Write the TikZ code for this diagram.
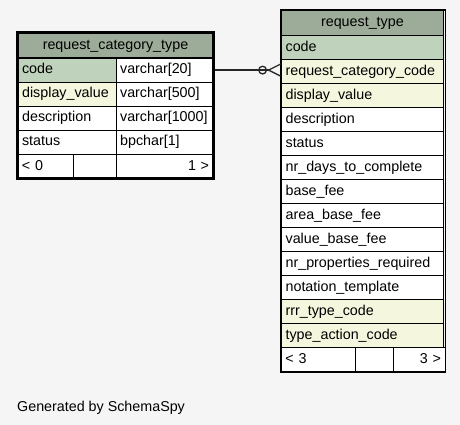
\documentclass[tikz,border=0pt]{standalone}
\usepackage{fontspec}
\setmainfont{Liberation Sans}
\usetikzlibrary{matrix,positioning,arrows.meta}

\definecolor{hdrgreen}{RGB}{157,172,152}
\definecolor{pkgreen}{RGB}{191,210,187}
\definecolor{fkyellow}{RGB}{244,247,221}
\definecolor{bggray}{RGB}{245,245,245}

\tikzset{
  cell/.style={draw, line width=0.8pt, fill=white, minimum height=24pt, text height=10.5pt, text depth=3pt,
    inner xsep=4pt, inner ysep=0pt, align=left, anchor=center},
  hdr/.style={cell, fill=hdrgreen, align=center, minimum height=25pt},
  pk/.style={fill=pkgreen},
  fk/.style={fill=fkyellow},
  tbl/.style={matrix of nodes, inner sep=0pt, row sep=-0.8pt, column sep=-0.8pt, nodes={cell}},
  link/.style={line width=1.3pt, draw=black!85}
}

\begin{document}
\begin{tikzpicture}[x=1pt, y=-1pt, every node/.style={font=\fontsize{14.3}{16}\selectfont}]
  \useasboundingbox[fill=bggray] (0,0) rectangle (460,425);

  % request_category_type
  \node[hdr, text width=187.2pt, anchor=north west] (rcthdr) at (17.5,32.5) {request\_category\_type};
  \matrix (rct) [tbl, anchor=north west, column 1/.style={nodes={text width=90pt}}, column 2/.style={nodes={text width=90pt}}]
    at ([yshift=0.8pt]rcthdr.south west)
  {
    |[pk]| code & varchar[20] \\
    |[fk]| display\_value & varchar[500] \\
    description & varchar[1000] \\
    status & bpchar[1] \\
  };
  \node[cell, text width=47pt, anchor=north west] (rctlo) at ([yshift=0.8pt]rct.south west) {< 0};
  \node[cell, text width=35pt, right=-0.8pt of rctlo] (rctmid) {};
  \node[cell, text width=89.2pt, align=right, right=-0.8pt of rctmid] (rcthi) {1 >};
  \draw[line width=3pt] (rcthdr.north west) rectangle (rcthi.south east);

  % request_type
  \node[hdr, text width=154pt, anchor=north west] (rthdr) at (281,10) {request\_type};
  \matrix (rt) [tbl, anchor=north west, column 1/.style={nodes={text width=154pt}}]
    at ([yshift=0.8pt]rthdr.south west)
  {
    |[pk]| code \\
    |[fk]| request\_category\_code \\
    |[fk]| display\_value \\
    description \\
    status \\
    nr\_days\_to\_complete \\
    base\_fee \\
    area\_base\_fee \\
    value\_base\_fee \\
    nr\_properties\_required \\
    notation\_template \\
    |[fk]| rrr\_type\_code \\
    |[fk]| type\_action\_code \\
  };
  \node[cell, text width=66pt, anchor=north west] (rtlo) at ([yshift=0.8pt]rt.south west) {< 3};
  \node[cell, text width=30pt, right=-0.8pt of rtlo] (rtmid) {};
  \node[cell, text width=43.6pt, align=right, right=-0.8pt of rtmid] (rthi) {3 >};
  \draw[line width=1.5pt] (rthdr.north west) rectangle (rthi.south east);

  % relationship
  \draw[link, -{Circle[open,length=9pt,width=9pt,sep=0pt] Straight Barb[reversed,length=12pt,width=12pt,line width=1.3pt]}]
    (rct-1-2.east) -- (rct-1-2.east -| rt-2-1.west);

  \node[anchor=base west, inner sep=0pt] (gen) at (17,411) {Generated by SchemaSpy};
\end{tikzpicture}
\end{document}
